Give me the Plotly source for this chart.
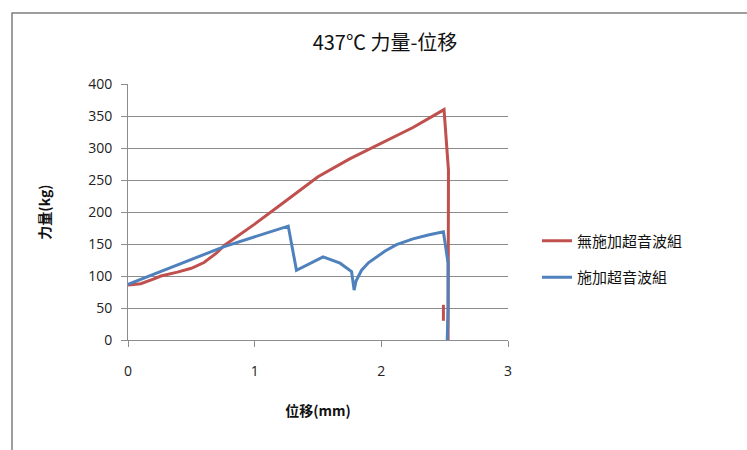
import plotly.graph_objects as go

# Force-displacement data at 437 °C
disp_no_us = [0.0, 0.1, 0.2, 0.26, 0.39, 0.5, 0.6, 0.7, 0.763, 0.92, 1.0, 1.25, 1.5, 1.75, 2.0,
              2.25, 2.495, 2.53, 2.527, None, 2.49, 2.49]
force_no_us = [86, 88, 95, 100, 106, 112, 121, 136, 148, 169, 181, 218, 255, 283, 307,
               332, 360, 265, 0, None, 55, 30]

disp_us = [0.0, 0.76, 1.265, 1.33, 1.54, 1.674, 1.765, 1.785, 1.80, 1.844, 1.90, 1.95, 2.03,
           2.12, 2.25, 2.37, 2.49, 2.527, 2.527, 2.52]
force_us = [87, 146, 178, 109, 130, 120, 107, 78, 92, 109, 121, 128, 139,
            149, 158, 164, 169, 120, 50, 0]

x_ticks = [0, 1, 2, 3]
y_ticks = [0, 50, 100, 150, 200, 250, 300, 350, 400]

RED = "#C0504D"
BLUE = "#4F81BD"
GRID = "#8C8C8C"

fig = go.Figure()
fig.add_trace(go.Scatter(x=disp_no_us, y=force_no_us, mode="lines", name="無施加超音波組",
                         line=dict(color=RED, width=3), legendgroup="a"))
fig.add_trace(go.Scatter(x=disp_us, y=force_us, mode="lines", name="施加超音波組",
                         line=dict(color=BLUE, width=3), legendgroup="b"))

tick_font = dict(family="Open Sans, Liberation Sans, sans-serif", size=14, color="#222222")
cjk = "Noto Sans CJK TC, Noto Sans CJK SC, sans-serif"

fig.update_layout(
    width=747, height=450,
    margin=dict(l=128, r=239, t=84, b=110),
    paper_bgcolor="white", plot_bgcolor="white",
    title=dict(text="437℃ 力量-位移", x=385 / 747, xanchor="center", y=1 - 43 / 450, yanchor="middle",
               font=dict(family=cjk, size=20, color="#111111")),
    xaxis=dict(range=[0, 3], tickvals=x_ticks, ticktext=[str(v) for v in x_ticks],
               showgrid=False, zeroline=False, showline=True, linecolor=GRID, linewidth=1,
               ticks="outside", ticklen=6, tickcolor=GRID, tickfont=tick_font,
               ticklabelstandoff=12,
               title=dict(text="<b>位移(mm)</b>", font=dict(family=cjk, size=14, color="#111111"),
                          standoff=27)),
    yaxis=dict(range=[0, 400], tickvals=y_ticks, ticktext=[str(v) for v in y_ticks],
               showgrid=True, gridcolor=GRID, gridwidth=1, zeroline=False,
               showline=True, linecolor=GRID, linewidth=1,
               ticks="outside", ticklen=6, tickcolor=GRID, tickfont=tick_font,
               ticklabelstandoff=6,
               title=dict(text="<b>力量(kg)</b>", font=dict(family=cjk, size=14, color="#111111"),
                          standoff=34)),
    legend=dict(x=(537 - 128) / 380, xanchor="left", y=(340 - 259) / 256, yanchor="middle",
                font=dict(family=cjk, size=15, color="#111111"), tracegroupgap=14,
                bgcolor="rgba(0,0,0,0)"),
    showlegend=True,
    shapes=[
        # chart area frame
        dict(type="rect", xref="paper", yref="paper",
             x0=(12 - 128) / 380, x1=1.8, y0=-0.6, y1=(340 - 13) / 256,
             line=dict(color="#7F7F7F", width=1.5), fillcolor="rgba(0,0,0,0)", layer="below"),
    ],
)

fig.write_html("out.html")
